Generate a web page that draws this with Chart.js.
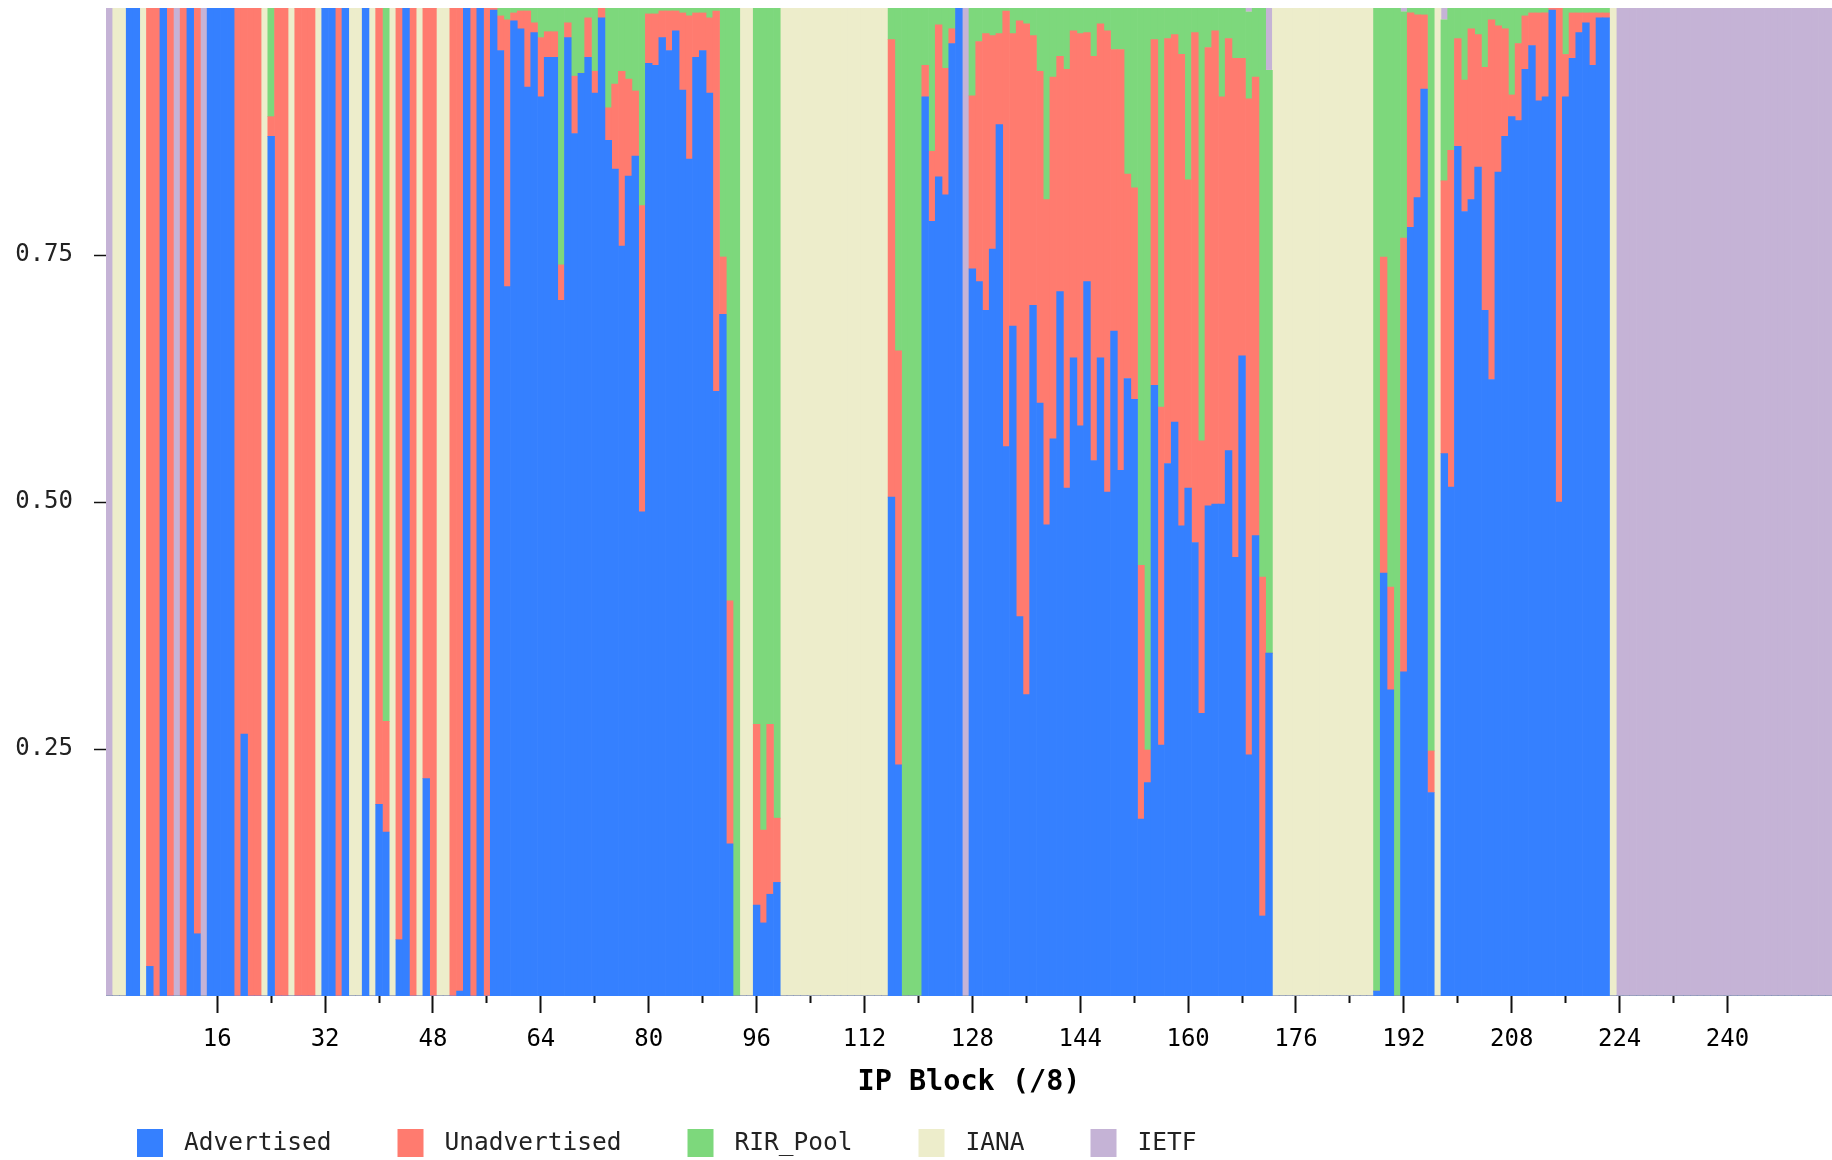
<!DOCTYPE html>
<html>
<head>
<meta charset="utf-8">
<title>IP Block (/8) usage</title>
<script src="https://cdn.jsdelivr.net/npm/chart.js@4.4.1/dist/chart.umd.min.js"></script>
<style>
  html, body { margin: 0; padding: 0; background: #fff; }
  #wrap { width: 1832px; height: 1160px; }
</style>
</head>
<body>
<div id="wrap"><canvas id="myChart" width="1832" height="1160"></canvas></div>
<script>
// one category per /8 block, 0..255
const blocks = Array.from({ length: 256 }, (_, i) => String(i));

// share of each /8, rows of 16 blocks
const advertised = [
  0, 0, 0, 1, 1, 0, 0.03, 0, 1, 0, 0, 0, 1, 0.063, 0, 1,
  1, 1, 1, 0, 0.265, 0, 0, 0, 0.87, 0, 0, 0, 0, 0, 0, 0,
  1, 1, 0, 1, 0, 0, 1, 0, 0.194, 0.166, 0, 0.057, 1, 0, 0, 0.22,
  0, 0, 0, 0, 0.005, 1, 0, 1, 0, 0.998, 0.957, 0.718, 0.987, 0.979, 0.92, 0.975,
  0.91, 0.95, 0.95, 0.704, 0.97, 0.873, 0.934, 0.95, 0.914, 0.99, 0.866, 0.837, 0.759, 0.83, 0.85, 0.49,
  0.944, 0.942, 0.97, 0.957, 0.977, 0.917, 0.847, 0.95, 0.957, 0.914, 0.612, 0.69, 0.154, 0, 0, 0,
  0.092, 0.074, 0.103, 0.115, 0, 0, 0, 0, 0, 0, 0, 0, 0, 0, 0, 0,
  0, 0, 0, 0, 0.505, 0.234, 0, 0, 0, 0.91, 0.784, 0.829, 0.811, 0.964, 1, 0,
  0.736, 0.723, 0.694, 0.756, 0.882, 0.556, 0.678, 0.384, 0.305, 0.699, 0.6, 0.477, 0.564, 0.713, 0.514, 0.646,
  0.577, 0.723, 0.542, 0.646, 0.51, 0.673, 0.532, 0.625, 0.604, 0.179, 0.216, 0.618, 0.254, 0.539, 0.581, 0.476,
  0.514, 0.459, 0.286, 0.496, 0.498, 0.498, 0.552, 0.444, 0.648, 0.244, 0.466, 0.081, 0.347, 0, 0, 0,
  0, 0, 0, 0, 0, 0, 0, 0, 0, 0, 0, 0, 0.005, 0.428, 0.31, 0,
  0.328, 0.778, 0.808, 0.918, 0.206, 0, 0.549, 0.515, 0.86, 0.794, 0.806, 0.839, 0.694, 0.624, 0.834, 0.87,
  0.89, 0.886, 0.938, 0.962, 0.906, 0.91, 0.998, 0.5, 0.91, 0.949, 0.975, 0.985, 0.942, 0.99, 0.99, 0,
  0, 0, 0, 0, 0, 0, 0, 0, 0, 0, 0, 0, 0, 0, 0, 0,
  0, 0, 0, 0, 0, 0, 0, 0, 0, 0, 0, 0, 0, 0, 0, 0
];

const unadvertised = [
  0, 0, 0, 0, 0, 0, 0.97, 1, 0, 1, 0, 1, 0, 0.937, 0, 0,
  0, 0, 0, 1, 0.735, 1, 1, 0, 0.02, 1, 1, 0, 1, 1, 1, 0,
  0, 0, 1, 0, 0, 0, 0, 0, 0.806, 0.112, 0, 0.943, 0, 1, 0, 0.78,
  1, 0, 0, 1, 0.995, 0, 1, 0, 1, 0.002, 0.035, 0.27, 0.008, 0.018, 0.077, 0.01,
  0.06, 0.026, 0.026, 0.036, 0.015, 0.058, 0, 0.04, 0.022, 0.01, 0.033, 0.086, 0.177, 0.098, 0.066, 0.31,
  0.05, 0.052, 0.027, 0.04, 0.02, 0.078, 0.145, 0.045, 0.038, 0.076, 0.385, 0.058, 0.246, 0, 0, 0,
  0.183, 0.094, 0.172, 0.065, 0, 0, 0, 0, 0, 0, 0, 0, 0, 0, 0, 0,
  0, 0, 0, 0, 0.463, 0.419, 0, 0, 0, 0.032, 0.071, 0.154, 0.128, 0.015, 0, 0,
  0.175, 0.243, 0.28, 0.216, 0.092, 0.441, 0.296, 0.603, 0.679, 0.273, 0.336, 0.329, 0.366, 0.238, 0.424, 0.331,
  0.397, 0.252, 0.409, 0.338, 0.467, 0.285, 0.426, 0.207, 0.214, 0.257, 0.033, 0.35, 0.342, 0.43, 0.392, 0.477,
  0.312, 0.516, 0.276, 0.464, 0.479, 0.412, 0.417, 0.505, 0.301, 0.664, 0.464, 0.343, 0, 0, 0, 0,
  0, 0, 0, 0, 0, 0, 0, 0, 0, 0, 0, 0, 0, 0.32, 0.104, 0,
  0.439, 0.217, 0.185, 0.075, 0.042, 0, 0.276, 0.341, 0.109, 0.133, 0.173, 0.134, 0.246, 0.364, 0.148, 0.109,
  0.022, 0.078, 0.054, 0.033, 0.089, 0.085, 0.002, 0.5, 0.043, 0.046, 0.02, 0.01, 0.053, 0.005, 0.005, 0,
  0, 0, 0, 0, 0, 0, 0, 0, 0, 0, 0, 0, 0, 0, 0, 0,
  0, 0, 0, 0, 0, 0, 0, 0, 0, 0, 0, 0, 0, 0, 0, 0
];

const rirPool = [
  0, 0, 0, 0, 0, 0, 0, 0, 0, 0, 0, 0, 0, 0, 0, 0,
  0, 0, 0, 0, 0, 0, 0, 0, 0.11, 0, 0, 0, 0, 0, 0, 0,
  0, 0, 0, 0, 0, 0, 0, 0, 0, 0.722, 0, 0, 0, 0, 0, 0,
  0, 0, 0, 0, 0, 0, 0, 0, 0, 0, 0.008, 0.012, 0.005, 0.003, 0.003, 0.015,
  0.03, 0.024, 0.024, 0.26, 0.015, 0.069, 0.066, 0.01, 0.064, 0, 0.101, 0.077, 0.064, 0.072, 0.084, 0.2,
  0.006, 0.006, 0.003, 0.003, 0.003, 0.005, 0.008, 0.005, 0.005, 0.01, 0.003, 0.252, 0.6, 1, 0, 0,
  0.725, 0.832, 0.725, 0.82, 0, 0, 0, 0, 0, 0, 0, 0, 0, 0, 0, 0,
  0, 0, 0, 0, 0.032, 0.347, 1, 1, 1, 0.058, 0.145, 0.017, 0.061, 0.021, 0, 0,
  0.089, 0.034, 0.026, 0.028, 0.026, 0.003, 0.026, 0.013, 0.016, 0.028, 0.064, 0.194, 0.07, 0.049, 0.062, 0.023,
  0.026, 0.025, 0.049, 0.016, 0.023, 0.042, 0.042, 0.168, 0.182, 0.564, 0.751, 0.032, 0.404, 0.031, 0.027, 0.047,
  0.174, 0.025, 0.438, 0.04, 0.023, 0.09, 0.031, 0.051, 0.051, 0.088, 0.07, 0.576, 0.59, 0, 0, 0,
  0, 0, 0, 0, 0, 0, 0, 0, 0, 0, 0, 0, 0.995, 0.252, 0.586, 1,
  0.229, 0.005, 0.007, 0.007, 0.752, 0, 0.163, 0.144, 0.031, 0.073, 0.021, 0.027, 0.06, 0.012, 0.018, 0.021,
  0.088, 0.036, 0.008, 0.005, 0.005, 0.005, 0, 0, 0.047, 0.005, 0.005, 0.005, 0.005, 0.005, 0.005, 0,
  0, 0, 0, 0, 0, 0, 0, 0, 0, 0, 0, 0, 0, 0, 0, 0,
  0, 0, 0, 0, 0, 0, 0, 0, 0, 0, 0, 0, 0, 0, 0, 0
];

const iana = [
  0, 1, 1, 0, 0, 1, 0, 0, 0, 0, 0, 0, 0, 0, 0, 0,
  0, 0, 0, 0, 0, 0, 0, 1, 0, 0, 0, 1, 0, 0, 0, 1,
  0, 0, 0, 0, 1, 1, 0, 1, 0, 0, 1, 0, 0, 0, 1, 0,
  0, 1, 1, 0, 0, 0, 0, 0, 0, 0, 0, 0, 0, 0, 0, 0,
  0, 0, 0, 0, 0, 0, 0, 0, 0, 0, 0, 0, 0, 0, 0, 0,
  0, 0, 0, 0, 0, 0, 0, 0, 0, 0, 0, 0, 0, 0, 1, 1,
  0, 0, 0, 0, 1, 1, 1, 1, 1, 1, 1, 1, 1, 1, 1, 1,
  1, 1, 1, 1, 0, 0, 0, 0, 0, 0, 0, 0, 0, 0, 0, 0,
  0, 0, 0, 0, 0, 0, 0, 0, 0, 0, 0, 0, 0, 0, 0, 0,
  0, 0, 0, 0, 0, 0, 0, 0, 0, 0, 0, 0, 0, 0, 0, 0,
  0, 0, 0, 0, 0, 0, 0, 0, 0, 0, 0, 0, 0, 1, 1, 1,
  1, 1, 1, 1, 1, 1, 1, 1, 1, 1, 1, 1, 0, 0, 0, 0,
  0, 0, 0, 0, 0, 1, 0, 0, 0, 0, 0, 0, 0, 0, 0, 0,
  0, 0, 0, 0, 0, 0, 0, 0, 0, 0, 0, 0, 0, 0, 0, 1,
  0, 0, 0, 0, 0, 0, 0, 0, 0, 0, 0, 0, 0, 0, 0, 0,
  0, 0, 0, 0, 0, 0, 0, 0, 0, 0, 0, 0, 0, 0, 0, 0
];

const ietf = [
  1, 0, 0, 0, 0, 0, 0, 0, 0, 0, 1, 0, 0, 0, 1, 0,
  0, 0, 0, 0, 0, 0, 0, 0, 0, 0, 0, 0, 0, 0, 0, 0,
  0, 0, 0, 0, 0, 0, 0, 0, 0, 0, 0, 0, 0, 0, 0, 0,
  0, 0, 0, 0, 0, 0, 0, 0, 0, 0, 0, 0, 0, 0, 0, 0,
  0, 0, 0, 0, 0, 0, 0, 0, 0, 0, 0, 0, 0, 0, 0, 0,
  0, 0, 0, 0, 0, 0, 0, 0, 0, 0, 0, 0, 0, 0, 0, 0,
  0, 0, 0, 0, 0, 0, 0, 0, 0, 0, 0, 0, 0, 0, 0, 0,
  0, 0, 0, 0, 0, 0, 0, 0, 0, 0, 0, 0, 0, 0, 0, 1,
  0, 0, 0, 0, 0, 0, 0, 0, 0, 0, 0, 0, 0, 0, 0, 0,
  0, 0, 0, 0, 0, 0, 0, 0, 0, 0, 0, 0, 0, 0, 0, 0,
  0, 0, 0, 0, 0, 0, 0, 0, 0, 0.004, 0, 0, 0.063, 0, 0, 0,
  0, 0, 0, 0, 0, 0, 0, 0, 0, 0, 0, 0, 0, 0, 0, 0,
  0.004, 0, 0, 0, 0, 0, 0.012, 0, 0, 0, 0, 0, 0, 0, 0, 0,
  0, 0, 0, 0, 0, 0, 0, 0, 0, 0, 0, 0, 0, 0, 0, 0,
  1, 1, 1, 1, 1, 1, 1, 1, 1, 1, 1, 1, 1, 1, 1, 1,
  1, 1, 1, 1, 1, 1, 1, 1, 1, 1, 1, 1, 1, 1, 1, 1
];

const seriesNames = ['Advertised', 'Unadvertised', 'RIR_Pool', 'IANA', 'IETF'];
const seriesColors = ['#3580ff', '#ff7b6f', '#7dd87c', '#ededcb', '#c5b3d6'];
const yTicks = [0.25, 0.5, 0.75];

const monoFont = '"DejaVu Sans Mono", "Liberation Mono", monospace';
Chart.defaults.font.family = monoFont;

// legend drawn under the axis title, boxes + labels in one row
const bottomLegend = {
    id: 'bottomLegend',
    afterDraw(chart) {
        const c = chart.ctx;
        c.save();
        c.font = '24.5px ' + monoFont;
        c.textBaseline = 'middle';
        let x = 137;
        const top = 1129;
        chart.data.datasets.forEach(ds => {
            c.fillStyle = ds.backgroundColor;
            c.fillRect(x, top, 26, 28);
            x += 26 + 21;
            c.fillStyle = '#222';
            c.fillText(ds.label, x, top + 15);
            x += c.measureText(ds.label).width + 66;
        });
        c.restore();
    }
};

const ctx = document.getElementById('myChart').getContext('2d');
const values = [advertised, unadvertised, rirPool, iana, ietf];

const chart = new Chart(ctx, {
    type: 'bar',
    data: {
        labels: blocks,
        datasets: seriesNames.map((name, i) => ({
            label: name,
            data: values[i],
            backgroundColor: seriesColors[i],
            borderWidth: 0,
            barPercentage: 1,
            categoryPercentage: 1,
        }))
    },
    options: {
        responsive: false,
        animation: false,
        layout: { padding: { top: 8, bottom: 60, left: 0, right: 0 } },
        plugins: {
            legend: { display: false },
            tooltip: { enabled: false },
        },
        scales: {
            x: {
                stacked: true,
                weight: 1,
                offset: true,
                grid: { offset: false, drawOnChartArea: false, tickLength: 17, tickWidth: 2, color: '#111' },
                border: { display: false },
                ticks: {
                    autoSkip: false, maxRotation: 0, padding: 12, color: '#000',
                    font: { size: 24 },
                },
                afterBuildTicks: axis => {
                    axis.ticks = axis.ticks.filter(t => t.value > 0 && t.value <= 240 && t.value % 16 === 0);
                },
                afterFit: axis => {
                    axis.height = 104;
                    axis.paddingLeft = 0; axis.paddingRight = 0;
                },
                title: {
                    display: true, text: 'IP Block (/8)', color: '#000', padding: 0,
                    font: { size: 28.5, weight: 'bold' },
                },
            },
            xMinor: {
                type: 'category',
                position: 'bottom',
                weight: 0,
                offset: true,
                grid: { offset: false, drawOnChartArea: false, tickLength: 7, tickWidth: 2, color: '#111' },
                border: { display: false },
                ticks: { display: false, autoSkip: false },
                afterBuildTicks: axis => {
                    axis.ticks = axis.ticks.filter(t => t.value >= 24 && t.value <= 232 && t.value % 16 === 8);
                },
                afterFit: axis => {
                    axis.height = 0;
                    axis.paddingLeft = 0; axis.paddingRight = 0;
                },
            },
            y: {
                stacked: true,
                min: 0,
                max: 1,
                grid: { drawOnChartArea: false, tickLength: 12, tickWidth: 1.5, color: '#111' },
                border: { display: false },
                ticks: {
                    padding: 21, color: '#222',
                    font: { size: 24 },
                    callback: v => Number(v).toFixed(2),
                },
                afterBuildTicks: axis => {
                    axis.ticks = yTicks.map(v => ({ value: v }));
                },
                afterFit: axis => {
                    axis.width = 106;
                    axis.paddingTop = 0; axis.paddingBottom = 0;
                },
            },
        },
    },
    plugins: [bottomLegend],
});
</script>
</body>
</html>
